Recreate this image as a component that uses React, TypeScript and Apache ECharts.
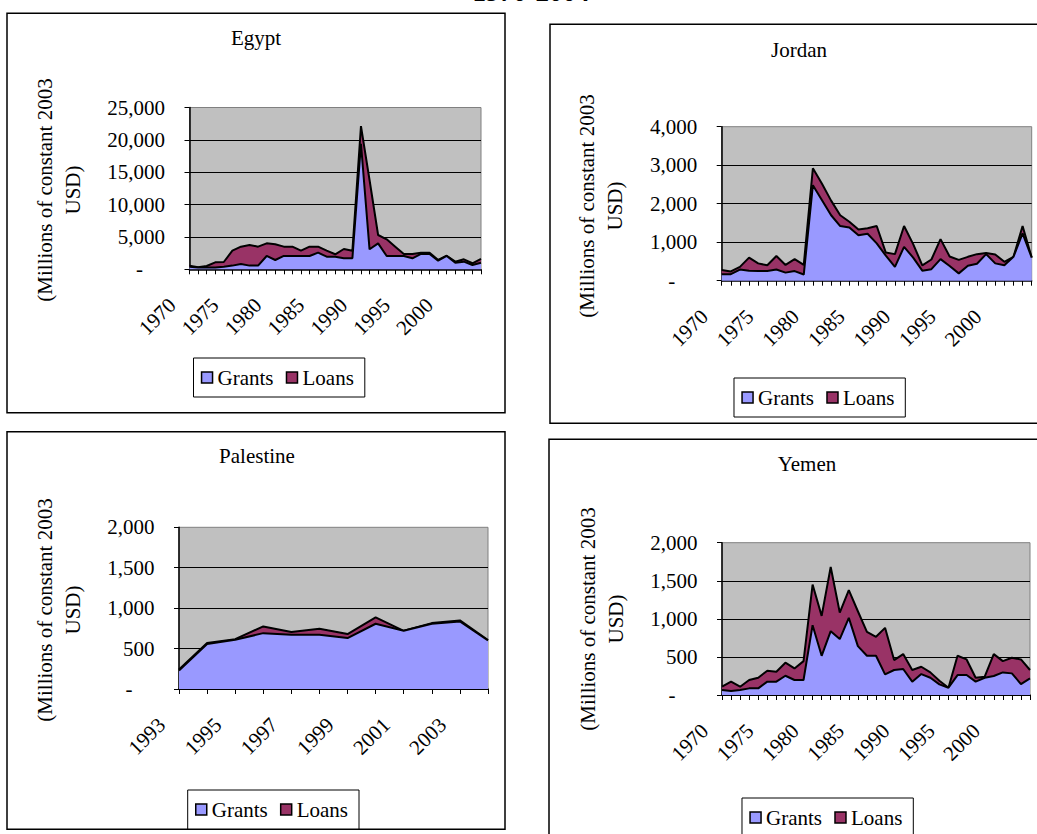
import React, { useEffect, useRef } from "react";
import * as echarts from "echarts";

const YEARS_1970_2004 = [
  "1970", "1971", "1972", "1973", "1974", "1975", "1976", "1977", "1978", "1979",
  "1980", "1981", "1982", "1983", "1984", "1985", "1986", "1987", "1988", "1989",
  "1990", "1991", "1992", "1993", "1994", "1995", "1996", "1997", "1998", "1999",
  "2000", "2001", "2002", "2003", "2004",
];
const YEARS_1993_2004 = [
  "1993", "1994", "1995", "1996", "1997", "1998", "1999", "2000", "2001", "2002", "2003", "2004",
];

const EGYPT_GRANTS = [410, 260, 260, 260, 410, 570, 820, 570, 570, 2060, 1440, 2060, 2060, 2060, 2060, 2570, 1950, 1950, 1700, 1700, 19400, 3090, 4010, 2060, 2060, 2060, 1700, 2370, 2370, 1340, 2060, 1030, 1180, 670, 1000];
const EGYPT_LOANS = [160, 50, 250, 820, 720, 2310, 2680, 3190, 2930, 1950, 2420, 1440, 1440, 820, 1440, 930, 930, 370, 1440, 1180, 2720, 10710, 1290, 2570, 1440, 310, 670, 200, 200, 100, 40, 150, 360, 260, 600];

const JORDAN_GRANTS = [170, 170, 290, 260, 250, 250, 290, 210, 250, 160, 2480, 2090, 1700, 1420, 1380, 1180, 1220, 970, 650, 360, 880, 600, 260, 300, 560, 380, 190, 390, 440, 690, 450, 400, 620, 1230, 600];
const JORDAN_LOANS = [110, 70, 70, 340, 200, 150, 350, 200, 310, 250, 440, 430, 380, 280, 150, 150, 140, 450, 80, 330, 540, 350, 140, 250, 520, 250, 350, 230, 250, 30, 230, 90, 0, 190, 0];

const PALESTINE_GRANTS = [230, 556, 609, 691, 671, 671, 630, 807, 720, 807, 835, 600];
const PALESTINE_LOANS = [10, 12, 8, 83, 33, 74, 49, 78, 0, 8, 13, 5];

const YEMEN_GRANTS = [66, 52, 66, 87, 87, 175, 175, 253, 197, 197, 917, 515, 838, 734, 1013, 642, 515, 515, 271, 328, 341, 175, 275, 227, 140, 96, 262, 262, 175, 227, 249, 297, 284, 144, 218];
const YEMEN_LOANS = [43, 123, 43, 110, 140, 144, 131, 171, 152, 248, 533, 524, 843, 349, 363, 458, 315, 249, 611, 131, 196, 153, 96, 70, 48, 0, 253, 205, 52, 13, 288, 148, 205, 323, 110];

const SERIES_NAMES = ["Grants", "Loans"];
const Y_AXIS_NAME = "(Millions of constant 2003\nUSD)";
const TOP_TITLE = "1970-2004";

const FONT = "Liberation Serif";
const GRANTS_COLOR = "#9999FF";
const LOANS_COLOR = "#993366";

const PANELS = [
  {
    title: "Egypt", years: YEARS_1970_2004, grants: EGYPT_GRANTS, loans: EGYPT_LOANS,
    yMax: 25000, yInterval: 5000, labelStep: 5,
    grid: { left: 189.5, top: 107.5, width: 291.5, height: 161.8 },
    frame: { x: 7, y: 13.3, w: 498, h: 399.4 },
    titlePos: [256, 38], namePos: [58.5, 190], legendPos: [193.5, 358],
  },
  {
    title: "Jordan", years: YEARS_1970_2004, grants: JORDAN_GRANTS, loans: JORDAN_LOANS,
    yMax: 4000, yInterval: 1000, labelStep: 5,
    grid: { left: 721.7, top: 126.7, width: 310, height: 154 },
    frame: { x: 550, y: 24.3, w: 520, h: 399 },
    titlePos: [799, 50.3], namePos: [600.5, 206], legendPos: [734, 378],
  },
  {
    title: "Palestine", years: YEARS_1993_2004, grants: PALESTINE_GRANTS, loans: PALESTINE_LOANS,
    yMax: 2000, yInterval: 500, labelStep: 2,
    grid: { left: 179, top: 527.3, width: 309, height: 161.7 },
    frame: { x: 7, y: 431.7, w: 498, h: 397.6 },
    titlePos: [257, 455.7], namePos: [59, 610], legendPos: [187.7, 790],
  },
  {
    title: "Yemen", years: YEARS_1970_2004, grants: YEMEN_GRANTS, loans: YEMEN_LOANS,
    yMax: 2000, yInterval: 500, labelStep: 5,
    grid: { left: 722, top: 542.7, width: 308, height: 152.3 },
    frame: { x: 549, y: 439.3, w: 520, h: 450 },
    titlePos: [807, 463.7], namePos: [602, 619], legendPos: [742, 798],
  },
];

function buildOption() {
  const grid = PANELS.map((p) => ({
    left: p.grid.left, top: p.grid.top, width: p.grid.width, height: p.grid.height,
    show: true, backgroundColor: "#C0C0C0", borderColor: "#808080", borderWidth: 1,
  }));
  const xAxis = PANELS.map((p, i) => ({
    gridIndex: i, type: "category", data: p.years, boundaryGap: false,
    axisLine: { show: true, lineStyle: { color: "#000", width: 1.5 } },
    axisTick: { show: true, interval: 0, length: 5, lineStyle: { color: "#000", width: 1 } },
    axisLabel: {
      interval: 0, showMinLabel: true, showMaxLabel: true,
      formatter: (v: string, idx: number) => (idx % p.labelStep === 0 ? v : ""),
      rotate: 45, margin: 49.7, verticalAlign: "bottom", lineHeight: 49,
      fontFamily: FONT, fontSize: 21, color: "#000",
    },
    splitLine: { show: false },
  }));
  const yAxis = PANELS.map((p, i) => ({
    gridIndex: i, type: "value", min: 0, max: p.yMax, interval: p.yInterval,
    axisLine: { show: true, lineStyle: { color: "#000", width: 1.5 } },
    axisTick: { show: true, length: 5, lineStyle: { color: "#000", width: 1 } },
    splitLine: { show: true, showMaxLine: false, lineStyle: { color: "#000", width: 1 } },
    axisLabel: {
      margin: 24.5, fontFamily: FONT, fontSize: 21, color: "#000",
      formatter: (v: number) => (v === 0 ? "{z|-}" : v.toLocaleString("en-US")),
      rich: { z: { padding: [0, 22, 0, 0], fontFamily: FONT, fontSize: 21, color: "#000" } },
    },
  }));
  const series: any[] = [];
  PANELS.forEach((p, i) => {
    series.push({
      name: SERIES_NAMES[0], type: "line", xAxisIndex: i, yAxisIndex: i, stack: "s" + i,
      data: p.grants, symbol: "none", showSymbol: false, z: 3,
      itemStyle: { color: GRANTS_COLOR },
      lineStyle: { color: "#000", width: 2 },
      areaStyle: { color: GRANTS_COLOR, opacity: 1 },
    });
    series.push({
      name: SERIES_NAMES[1], type: "line", xAxisIndex: i, yAxisIndex: i, stack: "s" + i,
      data: p.loans, symbol: "none", showSymbol: false, z: 2,
      itemStyle: { color: LOANS_COLOR },
      lineStyle: { color: "#000", width: 2 },
      areaStyle: { color: LOANS_COLOR, opacity: 1 },
    });
  });
  const legend = PANELS.map((p) => ({
    data: SERIES_NAMES, left: p.legendPos[0], top: p.legendPos[1], orient: "horizontal",
    padding: [9, 11, 9, 7.3], itemGap: 12.2, itemWidth: 11, itemHeight: 11, icon: "rect",
    borderColor: "#000", borderWidth: 1, backgroundColor: "#fff", selectedMode: false,
    textStyle: { fontFamily: FONT, fontSize: 21, color: "#000", fontWeight: "normal" },
    itemStyle: { borderColor: "#000", borderWidth: 1.5 },
  }));
  const graphic: any[] = [];
  PANELS.forEach((p) => {
    graphic.push({
      type: "rect", z: -10, silent: true,
      shape: { x: p.frame.x, y: p.frame.y, width: p.frame.w, height: p.frame.h },
      style: { fill: "#fff", stroke: "#000", lineWidth: 1.5 },
    });
    graphic.push({
      type: "text", x: p.titlePos[0], y: p.titlePos[1], silent: true,
      style: {
        text: p.title, fontFamily: FONT, fontSize: 21, fontWeight: "normal", fill: "#000",
        align: "center", verticalAlign: "middle", textAlign: "center", textVerticalAlign: "middle",
      },
    });
    graphic.push({
      type: "text", x: p.namePos[0], y: p.namePos[1], rotation: Math.PI / 2, silent: true,
      style: {
        text: Y_AXIS_NAME, fontFamily: FONT, fontSize: 21, fontWeight: "normal", fill: "#000", lineHeight: 28,
        align: "center", verticalAlign: "middle", textAlign: "center", textVerticalAlign: "middle",
      },
    });
  });
  graphic.push({
    type: "text", x: 531, y: -8, silent: true,
    style: {
      text: TOP_TITLE, fontFamily: FONT, fontSize: 27, fontWeight: "bold", fill: "#000",
      align: "center", verticalAlign: "middle", textAlign: "center", textVerticalAlign: "middle",
    },
  });
  return {
    animation: false, backgroundColor: "#fff",
    textStyle: { fontFamily: FONT, color: "#000" },
    grid, xAxis, yAxis, series, legend, graphic,
  };
}

export default function App() {
  const ref = useRef<HTMLDivElement>(null);
  useEffect(() => {
    if (!ref.current) return;
    const chart = echarts.init(ref.current, undefined, { renderer: "svg" });
    chart.setOption(buildOption() as any);
    return () => chart.dispose();
  }, []);
  return (
    <div
      ref={ref}
      style={{ position: "absolute", left: 0, top: 0, width: 1037, height: 834, overflow: "hidden" }}
    />
  );
}
